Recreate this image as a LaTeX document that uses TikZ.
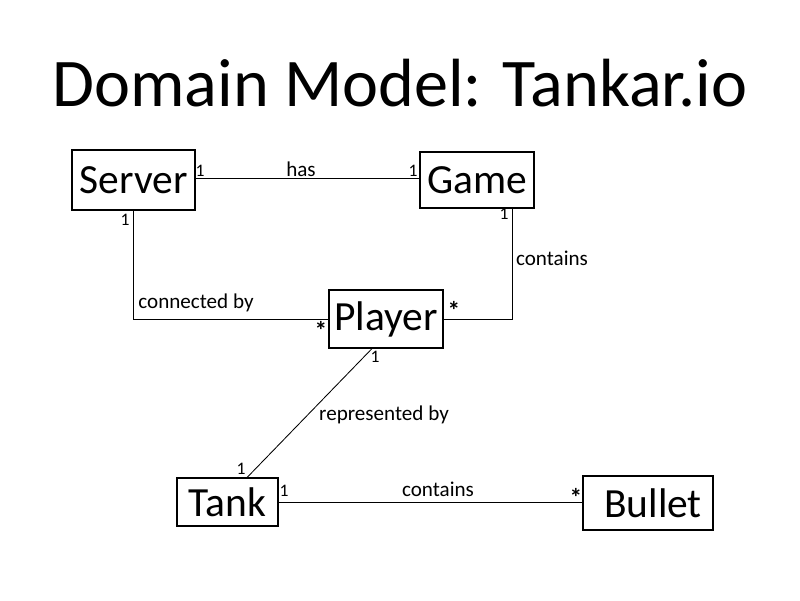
\documentclass[tikz,border=0pt]{standalone}
\usepackage{fontspec}
\setmainfont{Carlito}
\usepackage{tikz}
\usetikzlibrary{positioning,calc}
\tikzset{
  cls/.style={draw,thick,inner sep=0pt,font=\fontsize{29.5}{34}\selectfont},
  assoc/.style={semithick},
  lbl/.style={inner sep=0pt,font=\fontsize{15}{18}\selectfont},
  mult/.style={inner sep=0pt,font=\fontsize{12.5}{14}\selectfont},
  star/.style={inner sep=0pt,font=\fontsize{18}{20}\selectfont\bfseries},
}

\begin{document}
\begin{tikzpicture}[x=0.025cm,y=-0.025cm]
  \useasboundingbox (0,0) rectangle (800,600);
  \node[anchor=base,font=\fontsize{48.5}{56}\selectfont] (title) at (400,106)
    {Domain Model: Tankar.io};
  % classes
  \node[cls,minimum width=3.075cm,minimum height=1.5cm] (server) at (133.5,180) {Server};
  \node[cls,minimum width=2.85cm,minimum height=1.4cm] (game) at (477,180) {Game};
  \node[cls,minimum width=2.85cm,minimum height=1.45cm] (player) at (386,319) {Player};
  \node[cls,minimum width=2.525cm,minimum height=1.2cm] (tank) at (227.5,502) {Tank};
  \node[cls,minimum width=3.25cm,minimum height=1.35cm] (bullet) at (648,503)
    {\hspace*{0.25cm}Bullet};
  % associations
  \draw[assoc] ([yshift=0.05cm]server.east) -- ([yshift=0.05cm]server.east -| game.west);
  \draw[assoc] (server.south) |- (player.west);
  \draw[assoc] ([xshift=0.875cm]game.south) |- (player.east);
  \draw[assoc] ([xshift=-0.35cm]player.south) -- ([xshift=0.49cm]tank.north);
  \draw[assoc] (tank.east) -- (tank.east -| bullet.west);
  % labels
  \node[lbl] (has) at (301,169) {has};
  \node[lbl] (conn) at (196,303) {connected by};
  \node[lbl] (gcont) at (552,258) {contains};
  \node[lbl] (repr) at (384,415) {represented by};
  \node[lbl] (tcont) at (438,489) {contains};
  % multiplicities
  \node[mult] (m1) at (200,171) {1};
  \node[mult] (m2) at (413,171) {1};
  \node[mult] (m3) at (125,220) {1};
  \node[mult] (m4) at (504,214) {1};
  \node[mult] (m5) at (375,357) {1};
  \node[mult] (m6) at (241,469) {1};
  \node[mult] (m7) at (284,491) {1};
  \node[star] (s1) at (321,330) {*};
  \node[star] (s2) at (454,310) {*};
  \node[star] (s3) at (576,497) {*};
\end{tikzpicture}
\end{document}
